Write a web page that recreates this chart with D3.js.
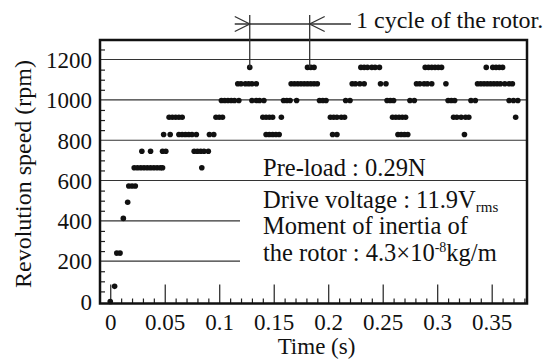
<!DOCTYPE html>
<html>
<head>
<meta charset="utf-8">
<script src="https://cdn.jsdelivr.net/npm/d3@7"></script>
<style>
  body { margin: 0; background: #fff; }
  svg text { font-family: "Liberation Serif", "Tinos", "Nimbus Roman", "Times New Roman", "DejaVu Serif", "Noto Serif", serif; fill: #111; }
</style>
</head>
<body>
<div id="chart"></div>
<script>
// Measured speed levels (rpm) and the sample times (s) that land on each level
var t0 = [0.000];
var t75 = [0.004];
var t240 = [0.006, 0.009];
var t412 = [0.012];
var t492 = [0.016];
var t573 = [0.017, 0.020, 0.023];
var t663 = [0.022, 0.025, 0.028, 0.031, 0.034, 0.037, 0.040, 0.043, 0.046, 0.048, 0.084];
var t745 = [0.029, 0.037, 0.048, 0.051, 0.077, 0.080, 0.083, 0.086, 0.090];
var t828 = [0.049, 0.055, 0.063, 0.066, 0.069, 0.072, 0.075, 0.079, 0.091, 0.095,
    0.143, 0.146, 0.149, 0.152, 0.155, 0.204, 0.208, 0.264, 0.267, 0.270, 0.273, 0.325];
var t914 = [0.054, 0.057, 0.060, 0.063, 0.066, 0.097, 0.100, 0.103, 0.140, 0.143, 0.146, 0.149,
    0.157, 0.202, 0.205, 0.208, 0.212, 0.215, 0.259, 0.262, 0.265, 0.268, 0.271,
    0.315, 0.318, 0.322, 0.326, 0.329, 0.372];
var t997 = [0.102, 0.105, 0.108, 0.111, 0.114, 0.118, 0.130, 0.134, 0.137, 0.141,
    0.159, 0.162, 0.165, 0.171, 0.192, 0.195, 0.198, 0.216, 0.220, 0.254, 0.257, 0.260,
    0.275, 0.279, 0.310, 0.313, 0.316, 0.331, 0.335, 0.366, 0.370, 0.374];
var t1080 = [0.117, 0.120, 0.124, 0.127, 0.130, 0.134, 0.166, 0.169, 0.172, 0.175, 0.178,
    0.181, 0.184, 0.187, 0.190, 0.222, 0.225, 0.229, 0.233, 0.248, 0.253,
    0.281, 0.284, 0.288, 0.291, 0.295, 0.308, 0.337, 0.340, 0.343, 0.346, 0.349,
    0.352, 0.355, 0.358, 0.362, 0.366, 0.369];
var t1161 = [0.128, 0.181, 0.184, 0.187, 0.230, 0.233, 0.236, 0.240, 0.243, 0.247,
    0.289, 0.292, 0.295, 0.298, 0.301, 0.304, 0.345, 0.351, 0.354, 0.357, 0.360];

var speedLevels = [0, 75, 240, 412, 492, 573, 663, 745, 828, 914, 997, 1080, 1161];
var levelTimes = [t0, t75, t240, t412, t492, t573, t663, t745, t828, t914, t997, t1080, t1161];

var xTicks = [0, 0.05, 0.1, 0.15, 0.2, 0.25, 0.3, 0.35];
var yTicks = [0, 200, 400, 600, 800, 1000, 1200];
var shortGrid = [200, 400];            // these stop where the note text starts
var longGrid = [600, 800, 1000, 1200];

// One rotor cycle marked above the plot
var cycleStart = 0.128, cycleEnd = 0.183, cycleSpeed = 1161;

var notes = ["Pre-load : 0.29N", "Drive voltage : 11.9V", "Moment of inertia of", "the rotor : 4.3×10"];

var serif = "'Liberation Serif', Tinos, 'Nimbus Roman', 'Times New Roman', 'DejaVu Serif', 'Noto Serif', serif";

// Build the point table
var points = [];
speedLevels.forEach(function(v, i) {
    levelTimes[i].forEach(function(t) { points.push({ t: t, v: v }); });
});

var width = 554, height = 363;
var box = { left: 100, right: 527, top: 40, bottom: 303.5 };

var svg = d3.select("#chart")
    .append("svg")
    .attr("width", width)
    .attr("height", height)
    .attr("font-family", serif);

var x = d3.scaleLinear().domain([-0.0094, 0.3824]).range([box.left, box.right]);
var y = d3.scaleLinear().domain([-10, 1297]).range([box.bottom, box.top]);

// Grid lines
svg.selectAll(".grid-long")
    .data(longGrid)
    .enter()
    .append("line")
    .attr("x1", box.left).attr("x2", box.right)
    .attr("y1", d => y(d)).attr("y2", d => y(d))
    .style("stroke", "#333").style("stroke-width", 1.1);

svg.selectAll(".grid-short")
    .data(shortGrid)
    .enter()
    .append("line")
    .attr("x1", box.left).attr("x2", 240)
    .attr("y1", d => y(d)).attr("y2", d => y(d))
    .style("stroke", "#333").style("stroke-width", 1.1);

// Minor ticks: x every 0.01 s, y every 50 rpm, all pointing inward
var xMinor = d3.range(1, 39).map(d => d / 100).filter(d => Math.round(d * 100) % 5 !== 0);
var yMinor = d3.range(1, 26).map(d => d * 50).filter(d => d % 200 !== 0);

svg.append("g")
    .attr("transform", "translate(0," + box.bottom + ")")
    .call(d3.axisTop(x).tickValues(xMinor).tickSize(5).tickFormat(""))
    .call(g => g.select(".domain").remove())
    .selectAll("line").style("stroke", "#222").style("stroke-width", 1.2);

svg.append("g")
    .attr("transform", "translate(0," + box.bottom + ")")
    .call(d3.axisTop(x).tickValues(xTicks).tickSize(19).tickFormat(""))
    .call(g => g.select(".domain").remove())
    .selectAll("line").style("stroke", "#222").style("stroke-width", 1.2);

svg.append("g")
    .attr("transform", "translate(" + box.left + ",0)")
    .call(d3.axisRight(y).tickValues(yMinor).tickSize(5).tickFormat(""))
    .call(g => g.select(".domain").remove())
    .selectAll("line").style("stroke", "#222").style("stroke-width", 1.2);

// Tick labels
svg.append("g")
    .attr("transform", "translate(0," + box.bottom + ")")
    .call(d3.axisBottom(x).tickValues(xTicks).tickSize(0).tickPadding(0).tickFormat(d3.format("~g")))
    .call(g => g.select(".domain").remove())
    .attr("font-family", serif)
    .selectAll("text")
    .attr("y", 26)
    .attr("dy", 0)
    .style("font-size", "23px")
    .style("fill", "#111");

svg.append("g")
    .attr("transform", "translate(" + box.left + ",0)")
    .call(d3.axisLeft(y).tickValues(yTicks).tickSize(0).tickPadding(8).tickFormat(d3.format("d")))
    .call(g => g.select(".domain").remove())
    .attr("font-family", serif)
    .selectAll("text")
    .attr("dy", "0.34em")
    .style("font-size", "23px")
    .style("fill", "#111");

// Frame round the plot
svg.append("rect")
    .attr("x", box.left).attr("y", box.top)
    .attr("width", box.right - box.left).attr("height", box.bottom - box.top)
    .style("fill", "none").style("stroke", "#111").style("stroke-width", 2.5);

// Dots
svg.selectAll(".dot")
    .data(points)
    .enter()
    .append("circle")
    .attr("cx", d => x(d.t))
    .attr("cy", d => y(d.v))
    .attr("r", 2.8)
    .style("fill", "#111");

// Axis titles
svg.append("text")
    .attr("x", (box.left + box.right) / 2 + 3)
    .attr("y", 354)
    .attr("text-anchor", "middle")
    .style("font-size", "23px")
    .text("Time (s)");

svg.append("text")
    .attr("transform", "translate(31,174) rotate(-90)")
    .attr("text-anchor", "middle")
    .style("font-size", "24px")
    .text("Revolution speed (rpm)");

// Notes inside the plot
svg.append("text").attr("x", 263).attr("y", 176).style("font-size", "24.5px").text(notes[0]);

var drive = svg.append("text").attr("x", 263).attr("y", 208).style("font-size", "24.5px");
drive.append("tspan").text(notes[1]);
drive.append("tspan").attr("dy", 4).style("font-size", "15px").text("rms");

svg.append("text").attr("x", 263).attr("y", 234).style("font-size", "24.5px").text(notes[2]);

var rotor = svg.append("text").attr("x", 263).attr("y", 261).style("font-size", "24.5px");
rotor.append("tspan").text(notes[3]);
rotor.append("tspan").attr("dy", -9).style("font-size", "14px").text("-8");
rotor.append("tspan").attr("dy", 9).text("kg/m");

// Cycle marker above the plot
var xa = x(cycleStart), xb = x(cycleEnd), ya = 24;
var marker = svg.append("g").style("stroke", "#333").style("stroke-width", 1.3).style("fill", "none");
marker.append("line").attr("x1", xa).attr("x2", xa).attr("y1", 15).attr("y2", y(cycleSpeed));
marker.append("line").attr("x1", xb).attr("x2", xb).attr("y1", 15).attr("y2", y(cycleSpeed));
marker.append("line").attr("x1", xa - 15).attr("x2", 351).attr("y1", ya).attr("y2", ya);
marker.append("path").attr("d", "M" + (xa - 15) + "," + (ya - 7.5) + "L" + xa + "," + ya + "L" + (xa - 15) + "," + (ya + 7.5));
marker.append("path").attr("d", "M" + (xb + 15) + "," + (ya - 7.5) + "L" + xb + "," + ya + "L" + (xb + 15) + "," + (ya + 7.5));

svg.append("text")
    .attr("x", 356)
    .attr("y", 28)
    .style("font-size", "24px")
    .text("1 cycle of the rotor.");
</script>
</body>
</html>
